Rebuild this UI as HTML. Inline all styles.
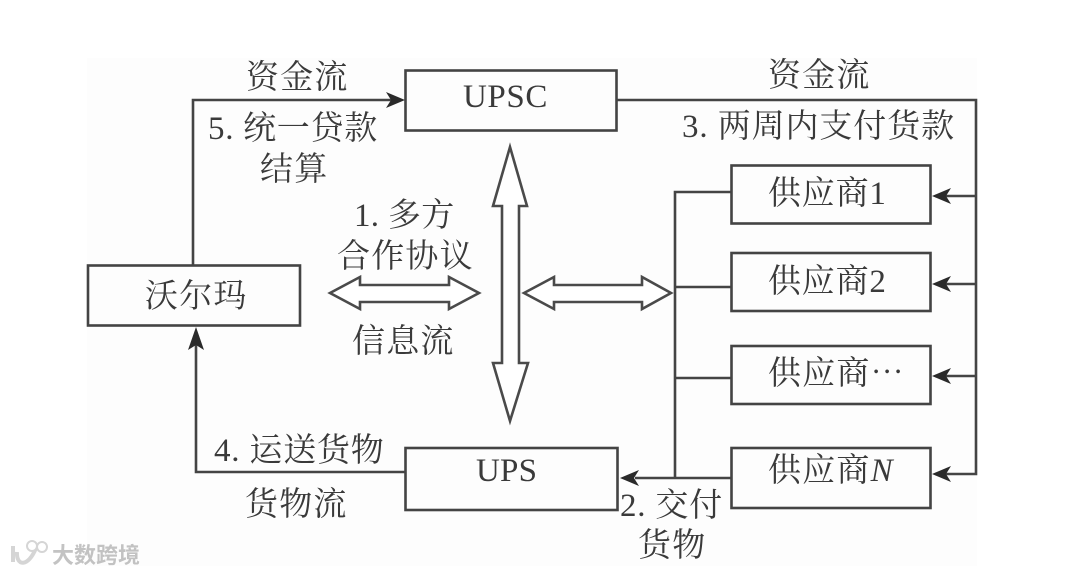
<!DOCTYPE html>
<html><head><meta charset="utf-8"><style>
html,body{margin:0;padding:0;background:#fff;width:1080px;height:574px;overflow:hidden}
svg{display:block}
text{font-family:"Liberation Serif","Noto Serif CJK SC",serif;fill:#3a3a3a;font-size:33px;letter-spacing:1.2px}
.n{letter-spacing:.8px}
.l{fill:none;stroke:#444;stroke-width:2.600}
.o{fill:#fff;stroke:#4a4a4a;stroke-width:2.600;stroke-linejoin:miter}
.a{fill:#2a2a2a}
</style></head><body>
<svg width="1080" height="574" viewBox="0 0 1080 574" xmlns="http://www.w3.org/2000/svg">
<rect x="87" y="58" width="890" height="508" fill="#fdfdfd"/>
<g class="l">
<rect x="405.500" y="70.500" width="211" height="60"/>
<rect x="88" y="265.500" width="212" height="60"/>
<rect x="405.500" y="448" width="212" height="62"/>
<rect x="731.500" y="165.500" width="199" height="58"/>
<rect x="731.500" y="253" width="199" height="58"/>
<rect x="731.500" y="346" width="199" height="58"/>
<rect x="731.500" y="448" width="199" height="60"/>
<path d="M193 265V100H392"/>
<path d="M617 100H976V474H935"/>
<path d="M196 345V472H405"/>
<path d="M935 196H976M935 284H976M935 376H976"/>
<path d="M731 192H675V478M675 287H731M675 378H731"/>
<path d="M731 478H635"/>
</g>
<g class="a">
<path d="M405 100L386 92L391 100L386 108Z"/>
<path d="M196 327L188 350L196 345L204 350Z"/>
<path d="M932 196L951 188L946 196L951 204Z"/>
<path d="M932 284L951 276L946 284L951 292Z"/>
<path d="M932 376L951 368L946 376L951 384Z"/>
<path d="M932 474L951 466L946 474L951 482Z"/>
<path d="M620 478L639 470L634 478L639 486Z"/>
</g>
<path class="o" d="M330 293L360 277V285H449V277L479 293L449 309V302H360V309Z"/>
<path class="o" d="M524 293L554 277V285H642V277L671 293L642 309V302H554V309Z"/>
<path class="o" d="M510 147L527 206H519V363H528L510 421L493 363H502V206H493Z"/>
<text x="246" y="88">资金流</text>
<text x="768" y="86">资金流</text>
<text class="n" x="208" y="139" style="letter-spacing:.7px">5. 统一贷款</text>
<text x="260" y="180">结算</text>
<text class="n" x="682" y="137" style="letter-spacing:.9px">3. 两周内支付货款</text>
<text x="463" y="107" style="letter-spacing:.6px">UPSC</text>
<text class="n" x="354" y="226" style="letter-spacing:.3px">1. 多方</text>
<text x="337" y="267">合作协议</text>
<text x="352" y="352">信息流</text>
<text x="145" y="307">沃尔玛</text>
<text class="n" x="768" y="204" style="letter-spacing:.8px">供应商1</text>
<text class="n" x="768" y="292" style="letter-spacing:.8px">供应商2</text>
<text x="768" y="384">供应商⋯</text>
<text x="768" y="481">供应商<tspan font-style="italic">N</tspan></text>
<text x="476" y="481" style="letter-spacing:.2px">UPS</text>
<text class="n" x="214" y="461" style="letter-spacing:.8px">4. 运送货物</text>
<text x="245" y="515">货物流</text>
<text class="n" x="620" y="516">2. 交付</text>
<text x="638" y="556">货物</text>
<g opacity=".7">
<path d="M13 546V562M36 548C28 568 16 566 17 552" fill="none" stroke="#c4c4c4" stroke-width="4"/>
<circle cx="32" cy="546" r="5" fill="#fff" stroke="#c4c4c4" stroke-width="2"/>
<circle cx="42" cy="547" r="5" fill="#fff" stroke="#c4c4c4" stroke-width="2"/>
<text x="52" y="563" style="font-size:22px;letter-spacing:0;fill:#aaa;font-family:'Liberation Sans','Noto Sans CJK SC',sans-serif;font-weight:bold">大数跨境</text>
</g>
</svg>
</body></html>
